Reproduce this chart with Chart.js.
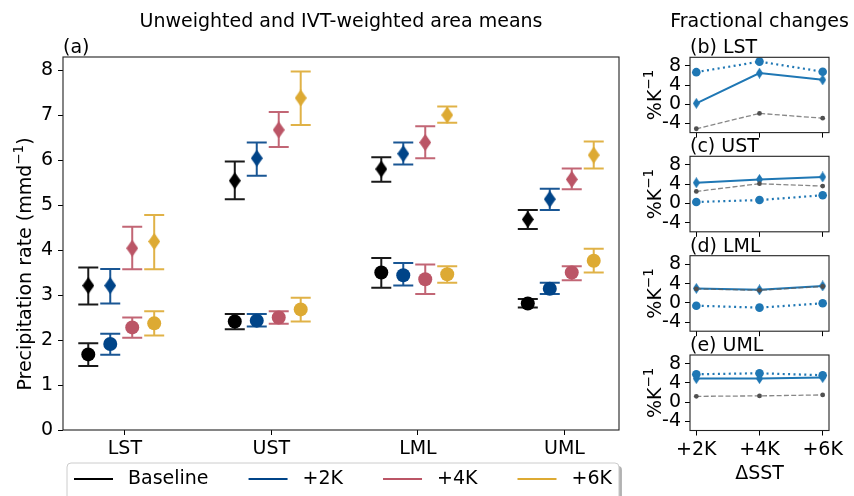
<!DOCTYPE html>
<html>
<head>
<meta charset="utf-8">
<script src="https://cdn.jsdelivr.net/npm/chart.js@4.4.1/dist/chart.umd.min.js"></script>
<style>
  html, body { margin: 0; padding: 0; background: #fff; }
  #wrap { position: relative; width: 854px; height: 496px; overflow: hidden; }
  #wrap canvas { position: absolute; top: 0; }
</style>
</head>
<body>
<div id="wrap">
  <canvas id="main" width="640" height="496" style="left:0px"></canvas>
  <canvas id="p0" width="224" height="496" style="left:630px"></canvas>
  <canvas id="p1" width="224" height="496" style="left:630px"></canvas>
  <canvas id="p2" width="224" height="496" style="left:630px"></canvas>
  <canvas id="p3" width="224" height="496" style="left:630px"></canvas>
</div>
<script>
const categories = ['LST', 'UST', 'LML', 'UML'];
const seriesNames = ['Baseline', '+2K', '+4K', '+6K'];
const seriesColors = ['#000000', '#004488', '#BB5566', '#DDAA33'];
const dodge = [-0.25, -0.1, 0.05, 0.2];
const yTicks = [0, 1, 2, 3, 4, 5, 6, 7, 8];

// IVT-weighted means (diamonds): one row per series, one column per category
const ivtMean = [
  [3.21, 5.54, 5.80, 4.68],
  [3.21, 6.04, 6.14, 5.13],
  [4.04, 6.67, 6.39, 5.57],
  [4.19, 7.38, 7.00, 6.11]
];
const ivtLow = [
  [2.79, 5.13, 5.52, 4.47],
  [2.81, 5.65, 5.90, 4.89],
  [3.57, 6.29, 6.04, 5.35],
  [3.57, 6.78, 6.83, 5.81]
];
const ivtHigh = [
  [3.61, 5.97, 6.06, 4.89],
  [3.58, 6.39, 6.39, 5.36],
  [4.52, 7.07, 6.75, 5.81],
  [4.78, 7.97, 7.19, 6.41]
];
// unweighted means (circles)
const unwMean = [
  [1.68, 2.41, 3.50, 2.81],
  [1.91, 2.43, 3.44, 3.14],
  [2.28, 2.50, 3.35, 3.50],
  [2.37, 2.68, 3.46, 3.76]
];
const unwLow = [
  [1.42, 2.24, 3.16, 2.72],
  [1.67, 2.30, 3.21, 3.02],
  [2.05, 2.36, 3.02, 3.33],
  [2.10, 2.41, 3.27, 3.50]
];
const unwHigh = [
  [1.93, 2.58, 3.82, 2.91],
  [2.14, 2.58, 3.71, 3.27],
  [2.50, 2.64, 3.68, 3.64],
  [2.64, 2.94, 3.64, 4.03]
];

// fractional changes, %/K, one row per panel
const sstSteps = [2, 4, 6];
const sstLabels = ['+2K', '+4K', '+6K'];
const fracTicks = [-4, 0, 4, 8];
const panelTitles = ['(b) LST', '(c) UST', '(d) LML', '(e) UML'];
const fracIvt = [[0.2, 6.5, 5.1], [4.3, 5.0, 5.5], [3.0, 2.7, 3.5], [4.9, 4.9, 5.1]];
const fracUnw = [[6.7, 8.9, 6.8], [0.3, 0.7, 1.7], [-0.6, -1.0, -0.1], [5.8, 6.0, 5.6]];
const fracRef = [[-5.1, -1.9, -2.9], [2.5, 4.1, 3.6], [2.9, 2.6, 3.4], [1.2, 1.3, 1.5]];

const FONT = '"DejaVu Sans", sans-serif';
Chart.defaults.font.family = FONT;
Chart.defaults.font.size = 19;
Chart.defaults.color = '#000';

function thinDiamond(w, h, color) {
  const c = document.createElement('canvas');
  c.width = w; c.height = h;
  const g = c.getContext('2d');
  g.fillStyle = color;
  g.beginPath();
  g.moveTo(w / 2, 0); g.lineTo(w, h / 2); g.lineTo(w / 2, h); g.lineTo(0, h / 2);
  g.closePath();
  g.fill();
  return c;
}

function roundRect(ctx, x, y, w, h, r) {
  ctx.beginPath();
  ctx.moveTo(x + r, y);
  ctx.arcTo(x + w, y, x + w, y + h, r);
  ctx.arcTo(x + w, y + h, x, y + h, r);
  ctx.arcTo(x, y + h, x, y, r);
  ctx.arcTo(x, y, x + w, y, r);
  ctx.closePath();
}

// text with a mathtext-like superscript, drawn rotated along the y axis
function yLabel(ctx, base, sup, cx, cy) {
  ctx.save();
  ctx.translate(cx, cy);
  ctx.rotate(-Math.PI / 2);
  ctx.font = '19px ' + FONT;
  const wb = ctx.measureText(base).width;
  ctx.font = '13.5px ' + FONT;
  const ws = ctx.measureText(sup).width;
  const wc = ctx.measureText(')').width;
  const hasParen = base.indexOf('(') >= 0;
  ctx.font = '19px ' + FONT;
  const wp = hasParen ? ctx.measureText(')').width : 0;
  const total = wb + ws + wp;
  let x = -total / 2;
  ctx.textBaseline = 'alphabetic';
  ctx.textAlign = 'left';
  ctx.fillStyle = '#000';
  const baseY = 6.5;
  ctx.fillText(base, x, baseY);
  x += wb;
  ctx.font = '13.5px ' + FONT;
  ctx.fillText(sup, x, baseY - 8);
  x += ws;
  if (hasParen) {
    ctx.font = '19px ' + FONT;
    ctx.fillText(')', x, baseY);
  }
  ctx.restore();
}

const frame = {
  id: 'frame',
  afterDraw(chart) {
    const a = chart.chartArea, ctx = chart.ctx;
    ctx.save();
    ctx.strokeStyle = '#222';
    ctx.lineWidth = 1.1;
    ctx.strokeRect(a.left, a.top, a.right - a.left, a.bottom - a.top);
    ctx.restore();
  }
};

const errorBars = {
  id: 'errorBars',
  beforeDatasetsDraw(chart) {
    const ctx = chart.ctx, x = chart.scales.x, y = chart.scales.y;
    ctx.save();
    ctx.lineWidth = 2;
    ctx.globalAlpha = 0.9;
    chart.data.datasets.forEach(ds => {
      ctx.strokeStyle = ds.errColor;
      ds.data.forEach(p => {
        const px = x.getPixelForValue(p.x);
        const top = y.getPixelForValue(p.hi);
        const bot = y.getPixelForValue(p.lo);
        ctx.beginPath();
        ctx.moveTo(px, top); ctx.lineTo(px, bot);
        ctx.moveTo(px - 10, top); ctx.lineTo(px + 10, top);
        ctx.moveTo(px - 10, bot); ctx.lineTo(px + 10, bot);
        ctx.stroke();
      });
    });
    ctx.restore();
  }
};

const mainText = {
  id: 'mainText',
  afterDraw(chart) {
    const a = chart.chartArea, ctx = chart.ctx;
    ctx.save();
    ctx.fillStyle = '#000';
    ctx.font = '19px ' + FONT;
    ctx.textAlign = 'center';
    ctx.fillText('Unweighted and IVT-weighted area means', (a.left + a.right) / 2, 27);
    ctx.textAlign = 'left';
    ctx.fillText('(a)', a.left, a.top - 4);
    yLabel(ctx, 'Precipitation rate (mmd', '−1', 24, 264);

    // legend below the axes
    ctx.font = '19px ' + FONT;
    const pad = 7, handle = 39, textPad = 15, colSp = 40;
    const left = 67, top = 463, h = 38;
    let w = 2 * pad;
    seriesNames.forEach((n, i) => {
      w += handle + textPad + ctx.measureText(n).width + (i < seriesNames.length - 1 ? colSp : 0);
    });
    ctx.fillStyle = 'rgba(0,0,0,0.3)';
    roundRect(ctx, left + 3, top + 3, w, h, 4);
    ctx.fill();
    ctx.fillStyle = '#fff';
    roundRect(ctx, left, top, w, h, 4);
    ctx.fill();
    ctx.strokeStyle = '#cccccc';
    ctx.lineWidth = 1;
    ctx.stroke();
    let x = left + pad;
    const cy = top + 16;
    ctx.textBaseline = 'middle';
    seriesNames.forEach((n, i) => {
      ctx.strokeStyle = seriesColors[i];
      ctx.lineWidth = 2;
      ctx.beginPath();
      ctx.moveTo(x, cy); ctx.lineTo(x + handle, cy);
      ctx.stroke();
      x += handle + textPad;
      ctx.fillStyle = '#000';
      ctx.fillText(n, x, cy);
      x += ctx.measureText(n).width + colSp;
    });
    ctx.restore();
  }
};

const mainSets = [];
seriesNames.forEach((name, s) => {
  mainSets.push({
    label: name + ' IVT-weighted',
    data: categories.map((c, i) => ({ x: i + dodge[s], y: ivtMean[s][i], lo: ivtLow[s][i], hi: ivtHigh[s][i] })),
    errColor: seriesColors[s],
    pointStyle: thinDiamond(12, 17, seriesColors[s]),
    pointRadius: 7
  });
  mainSets.push({
    label: name + ' unweighted',
    data: categories.map((c, i) => ({ x: i + dodge[s], y: unwMean[s][i], lo: unwLow[s][i], hi: unwHigh[s][i] })),
    errColor: seriesColors[s],
    pointStyle: 'circle',
    pointRadius: 7,
    backgroundColor: seriesColors[s],
    borderWidth: 0
  });
});

new Chart(document.getElementById('main'), {
  type: 'scatter',
  data: { datasets: mainSets },
  plugins: [errorBars, frame, mainText],
  options: {
    responsive: false,
    animation: false,
    layout: { padding: { top: 57, right: 21, left: 0, bottom: 0 } },
    plugins: { legend: { display: false }, tooltip: { enabled: false } },
    scales: {
      x: {
        type: 'linear', min: -0.4225, max: 3.3725,
        afterBuildTicks: s => { s.ticks = categories.map((c, i) => ({ value: i })); },
        afterFit: s => { s.height = 66; },
        ticks: { callback: v => categories[v], padding: 3, autoSkip: false, maxRotation: 0 },
        grid: { drawOnChartArea: false, color: '#000', tickLength: 5 },
        border: { display: false }
      },
      y: {
        min: 0, max: 8.29,
        afterBuildTicks: s => { s.ticks = yTicks.map(v => ({ value: v })); },
        afterFit: s => { s.width = 63; },
        ticks: { padding: 5, autoSkip: false },
        grid: { drawOnChartArea: false, color: '#000', tickLength: 5 },
        border: { display: false }
      }
    }
  }
});

const panelTop = [57.3, 156.3, 255.7, 355];
const panelBottom = [132.6, 231.8, 331.2, 430.5];
const tabBlue = '#1f77b4';

panelTitles.forEach((title, k) => {
  const panelText = {
    id: 'panelText' + k,
    afterDraw(chart) {
      const a = chart.chartArea, ctx = chart.ctx;
      ctx.save();
      ctx.fillStyle = '#000';
      ctx.font = '19px ' + FONT;
      ctx.textAlign = 'left';
      ctx.fillText(title, a.left, a.top - 4);
      if (k === 0) {
        ctx.textAlign = 'center';
        ctx.fillText('Fractional changes', (a.left + a.right) / 2, 27);
      }
      yLabel(ctx, '%K', '−1', 24, (a.top + a.bottom) / 2);
      ctx.restore();
    }
  };
  new Chart(document.getElementById('p' + k), {
    type: 'scatter',
    data: {
      datasets: [
        {
          label: 'IVT-weighted',
          data: sstSteps.map((v, i) => ({ x: v, y: fracIvt[k][i] })),
          showLine: true,
          borderColor: tabBlue, borderWidth: 2,
          pointStyle: thinDiamond(7, 11, tabBlue), pointRadius: 5,
          order: 2
        },
        {
          label: 'reference',
          data: sstSteps.map((v, i) => ({ x: v, y: fracRef[k][i] })),
          showLine: true,
          borderColor: 'rgba(95,95,95,0.75)', borderWidth: 1.3, borderDash: [5, 2.3],
          pointStyle: 'circle', pointRadius: 2.4,
          pointBackgroundColor: '#505050', pointBorderWidth: 0,
          order: 1
        },
        {
          label: 'unweighted',
          data: sstSteps.map((v, i) => ({ x: v, y: fracUnw[k][i] })),
          showLine: true,
          borderColor: tabBlue, borderWidth: 2.2, borderDash: [2, 3.4],
          pointStyle: 'circle', pointRadius: 4.3,
          pointBackgroundColor: tabBlue, pointBorderWidth: 0,
          order: 0
        }
      ]
    },
    plugins: [frame, panelText],
    options: {
      responsive: false,
      animation: false,
      layout: { padding: { top: panelTop[k], right: 25, left: 0, bottom: 0 } },
      plugins: { legend: { display: false }, tooltip: { enabled: false } },
      scales: {
        x: {
          type: 'linear', min: 1.8, max: 6.2,
          afterBuildTicks: s => { s.ticks = sstSteps.map(v => ({ value: v })); },
          afterFit: s => { s.height = 496 - panelBottom[k]; },
          ticks: { display: k === 3, callback: v => sstLabels[sstSteps.indexOf(v)], padding: 3, autoSkip: false, maxRotation: 0 },
          grid: { drawOnChartArea: false, color: '#000', tickLength: 5 },
          border: { display: false },
          title: { display: k === 3, text: 'ΔSST', padding: { bottom: 11 } }
        },
        y: {
          min: -5.9, max: 9.8,
          afterBuildTicks: s => { s.ticks = fracTicks.map(v => ({ value: v })); },
          afterFit: s => { s.width = 60; },
          ticks: { padding: 4, autoSkip: false },
          grid: { drawOnChartArea: false, color: '#000', tickLength: 5 },
          border: { display: false }
        }
      }
    }
  });
});
</script>
</body>
</html>
